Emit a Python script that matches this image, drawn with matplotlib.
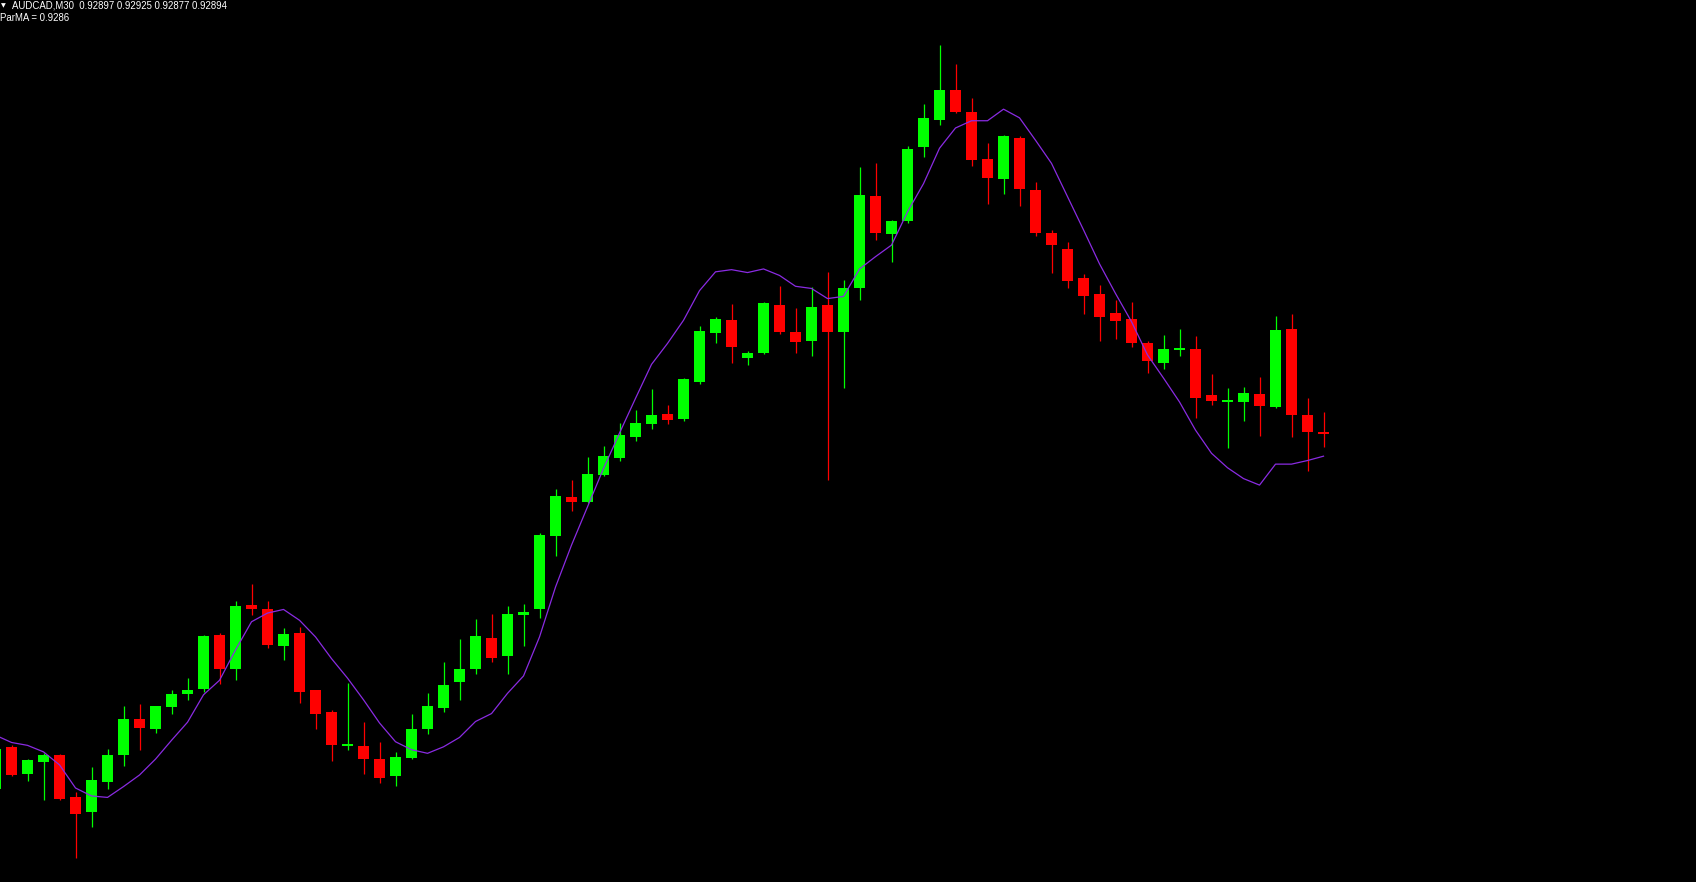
import matplotlib
matplotlib.use("Agg")
import matplotlib.pyplot as plt
import numpy as np

# AUDCAD M30 candles, oldest first (first one is cut off by the left edge)
opens = [0.92404, 0.92462, 0.92425, 0.92441, 0.92451, 0.92392, 0.92372, 0.92414, 0.92450, 0.92500,
         0.92487, 0.92517, 0.92535, 0.92542, 0.92617, 0.92570, 0.92658, 0.92653, 0.92602, 0.92619,
         0.92540, 0.92510, 0.92463, 0.92463, 0.92445, 0.92421, 0.92447, 0.92486, 0.92516, 0.92551,
         0.92570, 0.92612, 0.92587, 0.92645, 0.92652, 0.92754, 0.92808, 0.92800, 0.92838, 0.92862,
         0.92891, 0.92909, 0.92922, 0.92916, 0.92966, 0.93035, 0.93052, 0.93000, 0.93007, 0.93073,
         0.93036, 0.93024, 0.93073, 0.93036, 0.93097, 0.93224, 0.93172, 0.93190, 0.93291, 0.93329,
         0.93370, 0.93340, 0.93275, 0.93248, 0.93304, 0.93232, 0.93173, 0.93151, 0.93110, 0.93088,
         0.93062, 0.93054, 0.93020, 0.92993, 0.93011, 0.93012, 0.92948, 0.92939, 0.92939, 0.92950,
         0.92932, 0.93040, 0.92921, 0.92897]
highs = [0.92470, 0.92464, 0.92445, 0.92454, 0.92452, 0.92400, 0.92434, 0.92459, 0.92518, 0.92521,
         0.92519, 0.92540, 0.92557, 0.92617, 0.92619, 0.92664, 0.92687, 0.92664, 0.92626, 0.92628,
         0.92541, 0.92513, 0.92550, 0.92496, 0.92469, 0.92455, 0.92507, 0.92536, 0.92579, 0.92611,
         0.92639, 0.92646, 0.92657, 0.92660, 0.92758, 0.92819, 0.92831, 0.92863, 0.92878, 0.92910,
         0.92928, 0.92957, 0.92935, 0.92972, 0.93044, 0.93056, 0.93074, 0.93009, 0.93077, 0.93099,
         0.93069, 0.93098, 0.93119, 0.93108, 0.93264, 0.93270, 0.93191, 0.93293, 0.93351, 0.93433,
         0.93406, 0.93359, 0.93297, 0.93308, 0.93307, 0.93243, 0.93177, 0.93160, 0.93116, 0.93101,
         0.93080, 0.93077, 0.93023, 0.93032, 0.93040, 0.93030, 0.92978, 0.92958, 0.92960, 0.92974,
         0.93058, 0.93061, 0.92945, 0.92925]
lows = [0.92398, 0.92422, 0.92415, 0.92389, 0.92388, 0.92308, 0.92351, 0.92404, 0.92436, 0.92458,
        0.92481, 0.92508, 0.92527, 0.92538, 0.92549, 0.92555, 0.92645, 0.92598, 0.92582, 0.92523,
        0.92486, 0.92443, 0.92458, 0.92425, 0.92412, 0.92408, 0.92445, 0.92480, 0.92510, 0.92527,
        0.92563, 0.92580, 0.92563, 0.92602, 0.92640, 0.92726, 0.92788, 0.92799, 0.92837, 0.92858,
        0.92885, 0.92902, 0.92909, 0.92913, 0.92964, 0.93021, 0.92993, 0.92990, 0.93006, 0.93033,
        0.93007, 0.93002, 0.92831, 0.92959, 0.93080, 0.93163, 0.93133, 0.93186, 0.93278, 0.93322,
        0.93339, 0.93266, 0.93213, 0.93227, 0.93210, 0.93168, 0.93118, 0.93097, 0.93060, 0.93024,
        0.93026, 0.93015, 0.92979, 0.92984, 0.93002, 0.92917, 0.92935, 0.92876, 0.92913, 0.92892,
        0.92931, 0.92890, 0.92844, 0.92877]
closes = [0.92459, 0.92423, 0.92444, 0.92451, 0.92390, 0.92369, 0.92416, 0.92451, 0.92500, 0.92488,
          0.92518, 0.92535, 0.92540, 0.92615, 0.92570, 0.92657, 0.92653, 0.92603, 0.92618, 0.92538,
          0.92508, 0.92465, 0.92465, 0.92445, 0.92419, 0.92448, 0.92487, 0.92518, 0.92547, 0.92570,
          0.92615, 0.92585, 0.92646, 0.92648, 0.92755, 0.92809, 0.92800, 0.92839, 0.92864, 0.92893,
          0.92910, 0.92921, 0.92914, 0.92971, 0.93037, 0.93054, 0.93015, 0.93007, 0.93076, 0.93036,
          0.93022, 0.93070, 0.93036, 0.93097, 0.93225, 0.93173, 0.93189, 0.93289, 0.93332, 0.93370,
          0.93340, 0.93274, 0.93249, 0.93307, 0.93233, 0.93173, 0.93156, 0.93107, 0.93086, 0.93057,
          0.93051, 0.93020, 0.92995, 0.93012, 0.93014, 0.92945, 0.92941, 0.92942, 0.92951, 0.92934,
          0.93039, 0.92921, 0.92898, 0.92894]

# ParMA indicator value per bar
parma = [0.92478, 0.92468, 0.92464, 0.92455, 0.92437, 0.92405, 0.92394, 0.92392, 0.92407, 0.92423,
         0.92445, 0.92471, 0.92496, 0.92534, 0.92554, 0.92596, 0.92635, 0.92647, 0.92652, 0.92637,
         0.92614, 0.92584, 0.92557, 0.92527, 0.92495, 0.92469, 0.92458, 0.92453, 0.92462, 0.92475,
         0.92497, 0.92508, 0.92536, 0.92560, 0.92614, 0.92683, 0.92741, 0.92794, 0.92847, 0.92896,
         0.92944, 0.92991, 0.93020, 0.93052, 0.93093, 0.93119, 0.93122, 0.93118, 0.93123, 0.93114,
         0.93099, 0.93096, 0.93082, 0.93085, 0.93123, 0.93140, 0.93156, 0.93202, 0.93241, 0.93290,
         0.93318, 0.93328, 0.93328, 0.93344, 0.93332, 0.93301, 0.93269, 0.93223, 0.93177, 0.93130,
         0.93089, 0.93050, 0.93004, 0.92972, 0.92939, 0.92900, 0.92868, 0.92848, 0.92833, 0.92824,
         0.92853, 0.92853, 0.92858, 0.92864]

symbol = "AUDCAD,M30"
parma_label = "ParMA = 0.9286"

UP = "#00ff00"
DOWN = "#ff0000"
MA_COLOR = "#8a2be2"

W, H = 1696, 882
fig = plt.figure(figsize=(W / 100, H / 100), dpi=100, facecolor="black")
ax = fig.add_axes([0, 0, 1, 1])
ax.set_facecolor("black")

o = np.array(opens)
h = np.array(highs)
l = np.array(lows)
c = np.array(closes)
x = np.arange(len(o)) - 1  # bar -1 is the one cut by the left edge
colors = np.where(c >= o, UP, DOWN)

ax.vlines(x, l, h, colors=colors, linewidth=0.9, zorder=2)
body_lo = np.minimum(o, c)
body_h = np.maximum(np.abs(c - o), 0.000025)
ax.bar(x, body_h, bottom=body_lo, width=0.69, color=colors, linewidth=0, zorder=3)

ax.plot(x, parma, color=MA_COLOR, linewidth=0.9, zorder=4)

ax.set_xlim(-0.72, 105.28)
ax.set_ylim(0.92275, 0.93495)
ax.axis("off")

# header text, top-left like the terminal
fig.text(1 / W, 1 - 5.5 / H, "\u25bc", color="white", fontsize=4.5, va="center", ha="left",
         family="DejaVu Sans")
fig.text(12 / W, 1 - 5.5 / H,
         f"{symbol}  {opens[-1]:.5f} {highs[-1]:.5f} {lows[-1]:.5f} {closes[-1]:.5f}",
         color="white", fontsize=6.9, va="center", ha="left", family="Liberation Sans")
fig.text(0, 1 - 18 / H, parma_label, color="white", fontsize=6.9, va="center", ha="left",
         family="Liberation Sans")

fig.savefig("out.png", dpi=100, facecolor="black")
